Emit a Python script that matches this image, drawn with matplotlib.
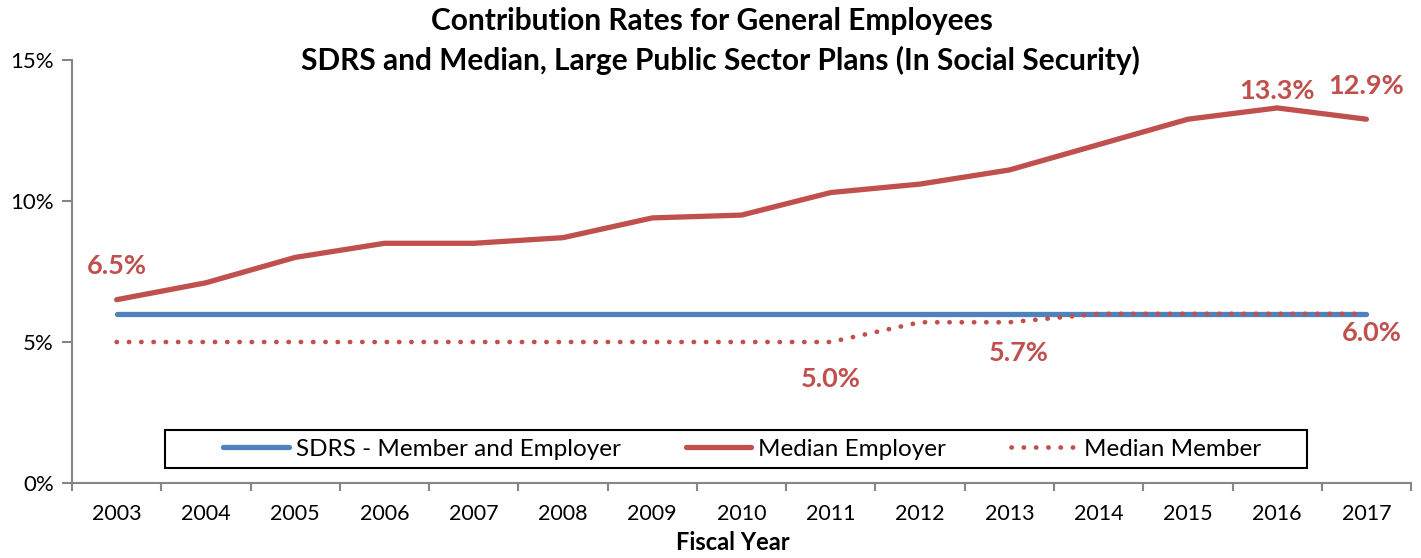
import matplotlib.pyplot as plt
from matplotlib.patches import Rectangle
from matplotlib.ticker import FuncFormatter

plt.rcParams['font.family'] = ['Lato', 'DejaVu Sans']

RED = '#C0504D'
BLUE = '#4F81BD'
GREY = '#868686'

YEARS = [str(y) for y in range(2003, 2018)]
SDRS = [0.060] * 15
MEDIAN_EMPLOYER = [0.065, 0.071, 0.080, 0.085, 0.085, 0.087, 0.094, 0.095,
                   0.103, 0.106, 0.111, 0.120, 0.129, 0.133, 0.129]
MEDIAN_MEMBER = [0.050, 0.050, 0.050, 0.050, 0.050, 0.050, 0.050, 0.050,
                 0.050, 0.057, 0.057, 0.060, 0.060, 0.060, 0.060]

# (series, index, text offset in points)
LABELS = [
    (MEDIAN_EMPLOYER, 0, (0, 24)),
    (MEDIAN_EMPLOYER, 13, (0, 12)),
    (MEDIAN_EMPLOYER, 14, (0, 24)),
    (MEDIAN_MEMBER, 8, (0, -27)),
    (MEDIAN_MEMBER, 10, (7, -22)),
    (MEDIAN_MEMBER, 14, (4, -14)),
]


def main():
    fig = plt.figure(figsize=(14.21, 5.58), dpi=100)
    ax = fig.add_axes([0.0507, 0.1344, 0.9423, 0.7581])
    x = list(range(len(YEARS)))

    ax.plot(x, SDRS, color=BLUE, lw=3.8, solid_capstyle='round',
            label='SDRS - Member and Employer')
    ax.plot(x, MEDIAN_EMPLOYER, color=RED, lw=3.8, solid_capstyle='round',
            label='Median Employer')
    ax.plot(x, MEDIAN_MEMBER, color=RED, lw=3.4, linestyle=(0, (0.05, 2.55)),
            dash_capstyle='round', label='Median Member')

    for series, i, off in LABELS:
        ax.annotate(f'{series[i] * 100:.1f}%', (i, series[i]), xytext=off,
                    textcoords='offset points', ha='center', va='center',
                    color=RED, fontsize=19.5, fontweight='bold')

    ax.set_xlim(-0.5, len(YEARS) - 0.5)
    ax.set_ylim(0, 0.15)
    ax.set_yticks([0, 0.05, 0.10, 0.15])
    ax.yaxis.set_major_formatter(FuncFormatter(lambda v, _: f'{v * 100:.0f}%'))
    ax.set_xticks([i - 0.5 for i in range(len(YEARS) + 1)])
    ax.set_xticklabels([])
    ax.set_xticks(x, minor=True)
    ax.set_xticklabels(YEARS, minor=True)
    ax.tick_params(axis='x', which='minor', length=0, pad=15, labelsize=15.5)
    ax.tick_params(axis='x', which='major', length=6, color=GREY, width=1.5)
    ax.tick_params(axis='y', length=7, color=GREY, width=1.5, labelsize=16, pad=6)

    for side in ('top', 'right'):
        ax.spines[side].set_visible(False)
    for side in ('left', 'bottom'):
        ax.spines[side].set_color(GREY)
        ax.spines[side].set_linewidth(1.5)

    # legend frame drawn separately so it can be wider than its content
    ax.add_patch(Rectangle((0.0695, 0.0355), 0.8528, 0.0898,
                           transform=ax.transAxes, fill=False,
                           edgecolor='black', lw=1.5, zorder=5))
    ax.legend(loc='center', bbox_to_anchor=(0.5004, 0.080), ncol=3,
              fontsize=17.5, frameon=False, handlelength=2.7,
              handletextpad=0.3, columnspacing=2.65, borderpad=0.2)

    fig.text(0.501, 0.963, 'Contribution Rates for General Employees',
             ha='center', va='center', fontsize=21.5, fontweight='bold')
    fig.text(0.507, 0.892, 'SDRS and Median, Large Public Sector Plans (In Social Security)',
             ha='center', va='center', fontsize=21.5, fontweight='bold')
    fig.text(0.5155, 0.027, 'Fiscal Year', ha='center', va='center',
             fontsize=17, fontweight='bold')

    fig.savefig('out.png', dpi=100)


main()
